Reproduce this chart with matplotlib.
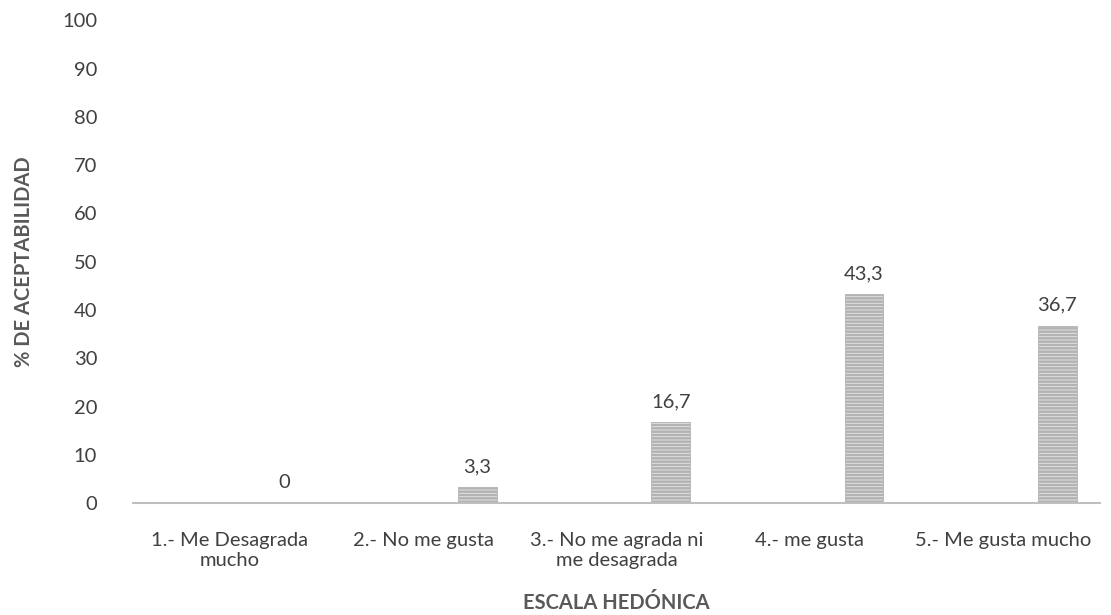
import matplotlib.pyplot as plt
import numpy as np

plt.rcParams['font.family'] = ['Lato', 'DejaVu Sans']
plt.rcParams['hatch.linewidth'] = 1.8
plt.rcParams['hatch.color'] = '#a6a6a6'

categorias = ["1.- Me Desagrada\nmucho", "2.- No me gusta", "3.- No me agrada ni\nme desagrada",
              "4.- me gusta", "5.- Me gusta mucho"]
porcentaje = [0, 3.3, 16.7, 43.3, 36.7]
yticks = [0, 10, 20, 30, 40, 50, 60, 70, 80, 90, 100]

gris = '#595959'
fig = plt.figure(figsize=(11.11, 6.15), dpi=100)
ax = fig.add_axes([0.12, 0.182, 0.87, 0.785])

x = np.arange(len(categorias))
barras = ax.bar(x + 0.28, porcentaje, width=0.2, color='#e6e6e6', edgecolor='#b3b3b3',
                hatch='-----', linewidth=0.6)
for b, v in zip(barras, porcentaje):
    txt = ('%g' % v).replace('.', ',')
    ax.text(b.get_x() + b.get_width() / 2, v + 2.5, txt, ha='center', va='bottom',
            fontsize=14.5, color='#404040')

ax.set_xlim(-0.5, len(categorias) - 0.5)
ax.set_ylim(0, 100)
ax.set_yticks(yticks)
ax.set_xticks(x)
ax.set_xticklabels(categorias, fontsize=14.5, color='#404040', linespacing=1.2)
ax.tick_params(axis='y', labelsize=14.5, labelcolor='#404040', length=0, pad=26)
ax.tick_params(axis='x', length=0, pad=21)
for s in ['top', 'right', 'left']:
    ax.spines[s].set_visible(False)
ax.spines['bottom'].set_color('#bfbfbf')
ax.spines['bottom'].set_linewidth(1.5)

ax.set_xlabel('ESCALA HEDÓNICA', fontsize=14.5, fontweight='bold', color=gris, labelpad=17)
ax.set_ylabel('% DE ACEPTABILIDAD', fontsize=14.5, fontweight='bold', color=gris, labelpad=20)

fig.savefig('out.png', dpi=100)
